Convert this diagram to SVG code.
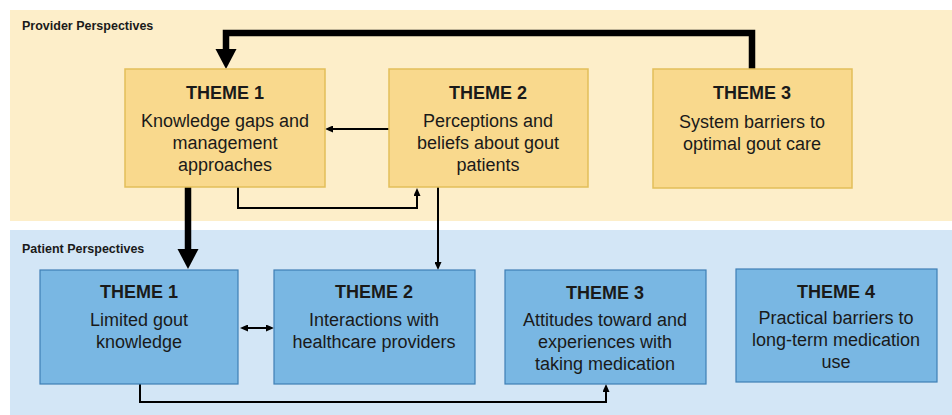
<svg xmlns="http://www.w3.org/2000/svg" width="952" height="415" viewBox="0 0 952 415">
<defs>
<style>
.bg-prov{fill:#FDEEC9;}
.bg-pat{fill:#D3E6F6;}
.prov{fill:#F9D98D;stroke:#E2BE5A;stroke-width:1.5;}
.pat{fill:#79B7E3;stroke:#3F7FB5;stroke-width:1.2;}
.sec{font-family:"Liberation Sans",Arial,sans-serif;font-weight:bold;font-size:12.5px;fill:#1A1A1A;}
.t{font-family:"Liberation Sans",Arial,sans-serif;font-size:18px;fill:#1A1A1A;text-anchor:middle;}
.h{font-weight:bold;}
.thick{fill:none;stroke:#000;stroke-width:6.5;}
.thin{fill:none;stroke:#000;stroke-width:2;}
</style>
<marker id="bigArrow" markerUnits="userSpaceOnUse" markerWidth="20" markerHeight="22" refX="0" refY="10.5" orient="auto" viewBox="0 0 20 21">
<path d="M0,0 L20,10.5 L0,21 z" fill="#000"/>
</marker>
<marker id="smallArrow" markerUnits="userSpaceOnUse" markerWidth="8" markerHeight="7" refX="0" refY="3.5" orient="auto-start-reverse" viewBox="0 0 8 7">
<path d="M0,0 L8,3.5 L0,7 z" fill="#000"/>
</marker>
</defs>

<rect class="bg-prov" x="10" y="10" width="942" height="211"/>
<rect class="bg-pat" x="10" y="230" width="942" height="185"/>
<text class="sec" x="22" y="30">Provider Perspectives</text>
<text class="sec" x="22" y="253">Patient Perspectives</text>

<g id="connectors">
<path class="thick" d="M752,69 V33 H226 V49" marker-end="url(#bigArrow)"/>
<path class="thick" d="M188,187 V249" marker-end="url(#bigArrow)"/>
<path class="thin" d="M389,129 H333" marker-end="url(#smallArrow)"/>
<path class="thin" d="M238,187 V208 H417 V196" marker-end="url(#smallArrow)"/>
<path class="thin" d="M438,187 V262" marker-end="url(#smallArrow)"/>
<path class="thin" d="M248,328 H266" marker-start="url(#smallArrow)" marker-end="url(#smallArrow)"/>
<path class="thin" d="M140,384 V402 H606 V392" marker-end="url(#smallArrow)"/>
</g>

<g id="prov-theme1">
<rect class="prov" x="125" y="69" width="200" height="118"/>
<text class="t h" x="225" y="99">THEME 1</text>
<text class="t" x="225" y="127">Knowledge gaps and</text>
<text class="t" x="225" y="149">management</text>
<text class="t" x="225" y="171">approaches</text>
</g>

<g id="prov-theme2">
<rect class="prov" x="389" y="69" width="199" height="118"/>
<text class="t h" x="488" y="99">THEME 2</text>
<text class="t" x="488" y="127">Perceptions and</text>
<text class="t" x="488" y="149">beliefs about gout</text>
<text class="t" x="488" y="171">patients</text>
</g>

<g id="prov-theme3">
<rect class="prov" x="653" y="69" width="199" height="119"/>
<text class="t h" x="752" y="99">THEME 3</text>
<text class="t" x="752" y="128">System barriers to</text>
<text class="t" x="752" y="150">optimal gout care</text>
</g>

<g id="pat-theme1">
<rect class="pat" x="40" y="270" width="198" height="114"/>
<text class="t h" x="139" y="298">THEME 1</text>
<text class="t" x="139" y="326">Limited gout</text>
<text class="t" x="139" y="348">knowledge</text>
</g>

<g id="pat-theme2">
<rect class="pat" x="274" y="270" width="201" height="114"/>
<text class="t h" x="374" y="298">THEME 2</text>
<text class="t" x="374" y="326">Interactions with</text>
<text class="t" x="374" y="348">healthcare providers</text>
</g>

<g id="pat-theme3">
<rect class="pat" x="505" y="270" width="201" height="114"/>
<text class="t h" x="605" y="299">THEME 3</text>
<text class="t" x="605" y="326">Attitudes toward and</text>
<text class="t" x="605" y="348">experiences with</text>
<text class="t" x="605" y="370">taking medication</text>
</g>

<g id="pat-theme4">
<rect class="pat" x="736" y="269" width="201" height="113"/>
<text class="t h" x="836" y="298">THEME 4</text>
<text class="t" x="836" y="324">Practical barriers to</text>
<text class="t" x="836" y="346">long-term medication</text>
<text class="t" x="836" y="368">use</text>
</g>
</svg>
